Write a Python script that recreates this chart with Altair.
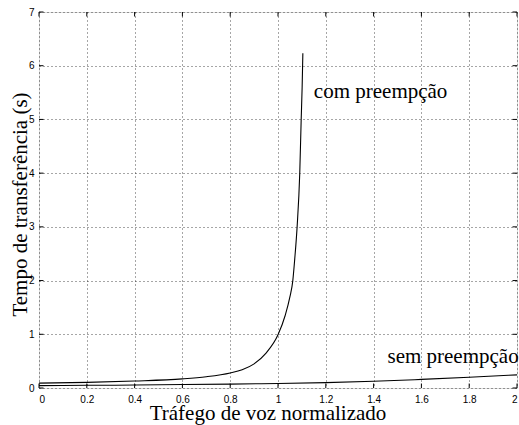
import altair as alt
import pandas as pd

# --- data ---
com_x = [0.0, 0.2, 0.4, 0.6, 0.7, 0.8, 0.85, 0.9, 0.95, 1.0, 1.03, 1.05, 1.062, 1.07, 1.08, 1.091, 1.097, 1.101, 1.104]
com_y = [0.09, 0.105, 0.13, 0.17, 0.21, 0.28, 0.34, 0.45, 0.65, 0.99, 1.35, 1.7, 2.0, 2.4, 3.0, 4.0, 5.0, 5.6, 6.23]
sem_x = [0.0, 0.2, 0.4, 0.6, 0.8, 1.0, 1.2, 1.4, 1.6, 1.8, 2.0]
sem_y = [0.045, 0.05, 0.055, 0.065, 0.072, 0.085, 0.1, 0.125, 0.16, 0.2, 0.245]

x_ticks = [0, 0.2, 0.4, 0.6, 0.8, 1.0, 1.2, 1.4, 1.6, 1.8, 2.0]
y_ticks = [0, 1, 2, 3, 4, 5, 6, 7]

label_text = ["com preempção", "sem preempção"]
label_x = [1.15, 1.458]
label_y = [5.4, 0.46]

W, H = 478, 376

rows = []
for i, (x, y) in enumerate(zip(com_x, com_y)):
    rows.append({"x": x, "y": y, "serie": "com", "o": i})
for i, (x, y) in enumerate(zip(sem_x, sem_y)):
    rows.append({"x": x, "y": y, "serie": "sem", "o": i})
df = pd.DataFrame(rows)

xs = alt.Scale(domain=[0, 2], nice=False, zero=False)
ys = alt.Scale(domain=[0, 7], nice=False, zero=False)

xaxis = alt.Axis(values=x_ticks, ticks=False, domain=False, grid=True,
                 gridDash=[1, 3], gridColor="#000", gridOpacity=0.7,
                 labelFont="Liberation Sans", labelFontSize=10, labelPadding=6,
                 labelColor="#000", labelExpr="datum.value == 0 ? '0' : format(datum.value, '.1~f')",
                 title="Tráfego de voz normalizado", titleFont="Liberation Serif",
                 titleFontSize=21, titleFontWeight="normal", titleColor="#000",
                 titleX=228.5, titleY=31, titleAlign="center", titleBaseline="alphabetic")
yaxis = alt.Axis(values=y_ticks, ticks=False, domain=False, grid=True,
                 gridDash=[1, 3], gridColor="#000", gridOpacity=0.7,
                 labelFont="Liberation Sans", labelFontSize=10, labelPadding=5,
                 labelColor="#000", format="d",
                 title="Tempo de transferência (s)", titleFont="Liberation Serif",
                 titleFontSize=21, titleFontWeight="normal", titleColor="#000",
                 titleX=-13, titleY=192, titleAlign="center", titleBaseline="alphabetic")

lines = alt.Chart(df).mark_line(color="black", strokeWidth=1.1, interpolate="monotone").encode(
    x=alt.X("x:Q", scale=xs, axis=xaxis),
    y=alt.Y("y:Q", scale=ys, axis=yaxis),
    detail="serie:N",
    order="o:Q",
)

xt = pd.DataFrame({"t": x_ticks})
yt = pd.DataFrame({"t": y_ticks})
tk = 4.5
bottom_ticks = alt.Chart(xt).mark_rule(color="black", strokeWidth=1).encode(
    x=alt.X("t:Q", scale=xs), y=alt.value(H), y2=alt.value(H - tk))
top_ticks = alt.Chart(xt).mark_rule(color="black", strokeWidth=1).encode(
    x=alt.X("t:Q", scale=xs), y=alt.value(0), y2=alt.value(tk))
left_ticks = alt.Chart(yt).mark_rule(color="black", strokeWidth=1).encode(
    y=alt.Y("t:Q", scale=ys), x=alt.value(0), x2=alt.value(tk))
right_ticks = alt.Chart(yt).mark_rule(color="black", strokeWidth=1).encode(
    y=alt.Y("t:Q", scale=ys), x=alt.value(W), x2=alt.value(W - tk))

lab = pd.DataFrame({"text": label_text, "x": label_x, "y": label_y})
labels = alt.Chart(lab).mark_text(font="Liberation Serif", fontSize=21, align="left",
                                  baseline="alphabetic", color="black").encode(
    x=alt.X("x:Q", scale=xs), y=alt.Y("y:Q", scale=ys), text="text:N")

chart = alt.layer(lines, bottom_ticks, top_ticks, left_ticks, right_ticks, labels).properties(
    width=W, height=H,
    autosize=alt.AutoSizeParams(type="none"),
    padding={"left": 39, "top": 12, "right": 2, "bottom": 37},
).configure_view(stroke="black", strokeWidth=1.2).configure(background="white")

chart.save("out.html", embed_options={"renderer": "svg", "actions": False})
